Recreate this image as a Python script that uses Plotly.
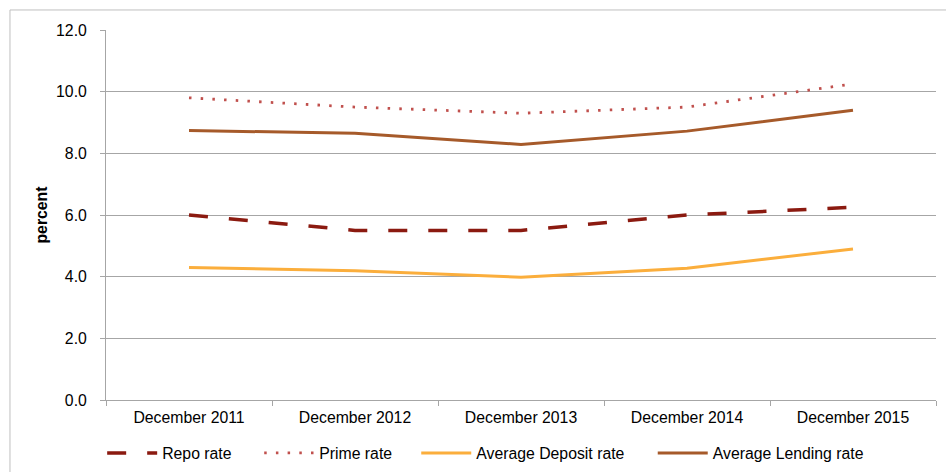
import plotly.graph_objects as go

# Interest rates, year-end (percent)
periods = ["December 2011", "December 2012", "December 2013", "December 2014", "December 2015"]
repo_rate = [6.0, 5.5, 5.5, 6.0, 6.25]
prime_rate = [9.8, 9.5, 9.3, 9.5, 10.25]
deposit_rate = [4.30, 4.19, 3.98, 4.27, 4.90]
lending_rate = [8.74, 8.65, 8.29, 8.72, 9.40]

# name, values, colour, dash, width, legend id, legend x position (container)
series = [
    ("Repo rate", repo_rate, "#8B1A10", "19px,21px", 3.5, "legend", 0.108),
    ("Prime rate", prime_rate, "#C0504D", "2.5px,9.2px", 2.8, "legend2", 0.274),
    ("Average Deposit rate", deposit_rate, "#FBAE3C", "solid", 3, "legend3", 0.440),
    ("Average Lending rate", lending_rate, "#A65A2A", "solid", 3, "legend4", 0.690),
]

FONT = "Liberation Sans, Arial, sans-serif"
TXT = 15.8

fig = go.Figure()
legends = {}
for name, vals, color, dash, width, leg, lx in series:
    fig.add_trace(go.Scatter(
        x=periods, y=vals, name=name, mode="lines", legend=leg,
        line=dict(color=color, dash=dash, width=width),
    ))
    legends[leg] = dict(
        orientation="h", xref="container", yref="container",
        x=lx, xanchor="left", y=0.040, yanchor="middle",
        font=dict(size=TXT, family=FONT), itemwidth=50,
        bgcolor="rgba(0,0,0,0)",
    )

axis_color = "#A6A6A6"
fig.update_layout(
    width=946, height=472,
    margin=dict(l=106, r=10, t=30, b=72, autoexpand=False),
    paper_bgcolor="white", plot_bgcolor="white",
    font=dict(family=FONT, size=TXT, color="#000000"),
    showlegend=True,
    xaxis=dict(
        type="category", range=[-0.5, 4.5], showgrid=False, showline=True,
        linecolor=axis_color, linewidth=1, ticks="outside", tickson="boundaries",
        ticklen=5, tickcolor=axis_color, tickfont=dict(size=TXT), automargin=False,
        ticklabelstandoff=3,
    ),
    yaxis=dict(
        range=[0, 12], dtick=2, tickformat=".1f", showgrid=True,
        gridcolor=axis_color, gridwidth=1, showline=True, linecolor=axis_color,
        ticks="outside", ticklen=5, tickcolor=axis_color, zeroline=False,
        tickfont=dict(size=TXT), automargin=False, ticklabelstandoff=10,
        title=dict(text="<b>percent</b>", font=dict(size=TXT), standoff=4),
    ),
    shapes=[dict(
        type="rect", xref="paper", yref="paper",
        x0=-0.1157, x1=1.05, y0=-0.25, y1=1.0541,
        line=dict(color="#BFBFBF", width=1), fillcolor="rgba(0,0,0,0)", layer="below",
    )],
    **legends,
)

fig.write_html("out.html")
